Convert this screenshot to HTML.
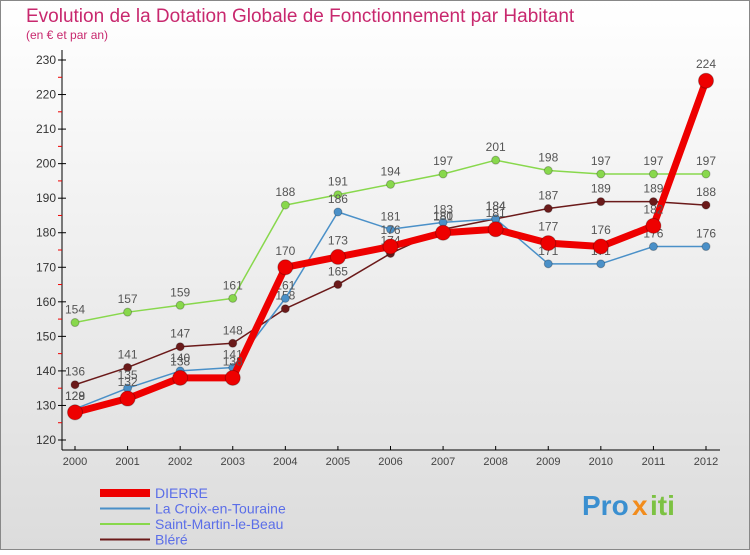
<!DOCTYPE html>
<html><head><meta charset="utf-8"><style>
body{margin:0;width:750px;height:550px;overflow:hidden;font-family:"Liberation Sans",sans-serif}
svg text{font-family:"Liberation Sans",sans-serif}
</style></head><body>
<svg id="c" width="750" height="550" xmlns="http://www.w3.org/2000/svg">
<defs><linearGradient id="bg" x1="0" y1="0" x2="0" y2="1"><stop offset="0" stop-color="#ffffff"/><stop offset="1" stop-color="#dcdcdc"/></linearGradient></defs>
<rect x="0.5" y="0.5" width="749" height="549" fill="url(#bg)" stroke="#888"/>
<text x="26" y="22" font-size="19" fill="#c8286e">Evolution de la Dotation Globale de Fonctionnement par Habitant</text>
<text x="26" y="39" font-size="12" fill="#c8286e">(en € et par an)</text>
<g id="axes"></g><g id="series"></g><g id="legend"></g>
<g font-size="28" font-weight="bold">
<text x="582" y="515" fill="#3a8fd0">Pro</text><text x="632" y="515" fill="#f28c1c">x</text><text x="650" y="515" fill="#7cc242">iti</text>
</g>
</svg>
<script>
const years=[2000,2001,2002,2003,2004,2005,2006,2007,2008,2009,2010,2011,2012];
const yTicks=[120,130,140,150,160,170,180,190,200,210,220,230];
const dierre=[128,132,138,138,170,173,176,180,181,177,176,182,224];
const laCroix=[129,135,140,141,161,186,181,183,184,171,171,176,176];
const saintMartin=[154,157,159,161,188,191,194,197,201,198,197,197,197];
const blere=[136,141,147,148,158,165,174,181,184,187,189,189,188];
const NS="http://www.w3.org/2000/svg";
const X=i=>75+i*(706-75)/12;
const Y=v=>440-(v-120)*(380/110);
function mk(t,a,p){const e=document.createElementNS(NS,t);for(const k in a)e.setAttribute(k,a[k]);p.appendChild(e);return e;}
const ax=document.getElementById('axes');
const yl=mk('line',{x1:62,y1:50,x2:62,y2:450,stroke:'#000'},ax);


const xl=mk('line',{x1:62,y1:450,x2:720,y2:450,stroke:'#000'},ax);


yTicks.forEach(v=>{
 mk('line',{x1:58,y1:Y(v),x2:66,y2:Y(v),stroke:'#000'},ax);
 if(v<230)mk('line',{x1:58,y1:Y(v+5),x2:62,y2:Y(v+5),stroke:'#e00'},ax);
 const t=mk('text',{x:56,y:Y(v)+4,'text-anchor':'end','font-size':12,fill:'#333'},ax);
 t.textContent=v;
 
 
});
years.forEach((y,i)=>{
 mk('line',{x1:X(i),y1:446,x2:X(i),y2:450,stroke:'#000'},ax);
 const t=mk('text',{x:X(i),y:465,'text-anchor':'middle','font-size':11,fill:'#444'},ax);
 t.textContent=y;
 
 
});
const sg=document.getElementById('series');
const series=[
 {n:'Saint-Martin-le-Beau',d:saintMartin,c:'#88d84c',w:1.5,r:4,name:'series-saint-martin'},
 {n:'Bléré',d:blere,c:'#6b1a1a',w:1.5,r:4,name:'series-blere'},
 {n:'La Croix-en-Touraine',d:laCroix,c:'#4a90c8',w:1.5,r:4,name:'series-la-croix'},
 {n:'DIERRE',d:dierre,c:'#ee0000',w:7,r:7.5,name:'series-dierre'}];
series.forEach(s=>{
 const g=mk('g',{},sg);
 
 
 const pl=mk('polyline',{points:s.d.map((v,i)=>X(i)+','+Y(v)).join(' '),fill:'none',stroke:s.c,'stroke-width':s.w,'stroke-linejoin':'round'},g);
 
 
 s.d.forEach((v,i)=>{
  const c=mk('circle',{cx:X(i),cy:Y(v),r:s.r,fill:s.c,stroke:'rgba(0,0,0,0.25)'},g);
  
  
  const t=mk('text',{x:X(i),y:Y(v)-(s.r+5),'text-anchor':'middle','font-size':12,fill:'#555'},g);
  t.textContent=v;
  
  
 });
});
const lg=document.getElementById('legend');
const leg=[['DIERRE','#ee0000',8],['La Croix-en-Touraine','#4a90c8',2],['Saint-Martin-le-Beau','#88d84c',2],['Bléré','#6b1a1a',2]];
leg.forEach((l,i)=>{
 const y=493+i*15.5;
 const g=mk('g',{},lg);
 
 
 mk('line',{x1:100,y1:y,x2:150,y2:y,stroke:l[1],'stroke-width':l[2]},g);
 const t=mk('text',{x:155,y:y+5,'font-size':14,fill:'#5b6ee8'},g);
 t.textContent=l[0];
});
</script>
</body></html>
